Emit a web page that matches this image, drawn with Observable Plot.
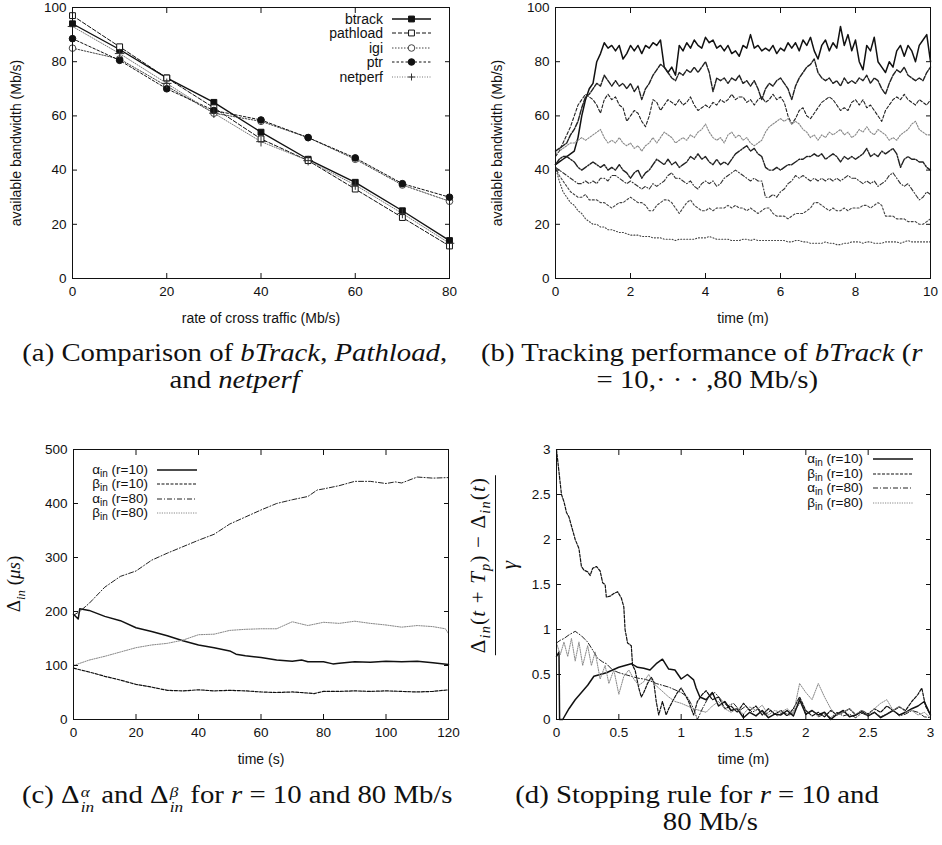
<!DOCTYPE html>
<html><head><meta charset="utf-8">
<script src="https://cdn.jsdelivr.net/npm/d3@7"></script>
<script src="https://cdn.jsdelivr.net/npm/@observablehq/plot@0.6"></script>
<style>
body{margin:0;background:#fff;}
#page{position:relative;width:942px;height:845px;overflow:hidden;font-family:"Liberation Sans",Arial,sans-serif;color:#111;}
.panel{position:absolute;}
.panel svg text{font-size:13.5px !important;}
.panel svg g[aria-label$="axis label"] text{font-size:14px !important;}
#overlay{position:absolute;left:0;top:0;pointer-events:none;}
.cap{position:absolute;font-family:"Liberation Serif","Times New Roman",serif;font-size:25px;color:#111;white-space:nowrap;line-height:1;}
.cap .in{display:inline-block;transform:scaleX(1.15);}
.cap.center{text-align:center;}
.cap.center .in{transform-origin:50% 50%;}
.cap.left .in{transform-origin:0 50%;}
.ss{display:inline-flex;flex-direction:column;vertical-align:0.42em;font-size:0.6em;line-height:1.0;font-style:italic;margin-left:1px;}
.ylab{position:absolute;font-family:"Liberation Serif","Times New Roman",serif;white-space:nowrap;transform:translate(-50%,-50%) rotate(-90deg);color:#111;}
.ylab sub{font-size:0.68em;vertical-align:-0.35em;}
.frac{display:inline-flex;flex-direction:column;align-items:center;}
.frac .num{border-bottom:1.4px solid #111;padding:0 2px 1px 2px;letter-spacing:1.2px;}
.frac .den{padding-top:1px;}
</style>
</head>
<body>
<div id="page">
  <div id="pa" class="panel" style="left:0;top:0"></div>
  <div id="pb" class="panel" style="left:480px;top:0"></div>
  <div id="pc" class="panel" style="left:0;top:440px"></div>
  <div id="pd" class="panel" style="left:480px;top:440px"></div>
  <svg id="overlay" width="942" height="845"></svg>

  <div class="ylab" style="left:16px;top:584px;font-size:19px;">Δ<sub><i>in</i></sub> (<i>μs</i>)</div>
  <div class="ylab" style="left:494px;top:565px;font-size:21px;"><span class="frac"><span class="num">Δ<sub><i>in</i></sub>(<i>t</i> + <i>T</i><sub><i>p</i></sub>) − Δ<sub><i>in</i></sub>(<i>t</i>)</span><span class="den"><i>γ</i></span></span></div>

  <div class="cap center" style="left:0;width:470px;top:340px;"><span class="in">(a) Comparison of <i>bTrack</i>, <i>Pathload</i>,</span></div>
  <div class="cap center" style="left:0;width:470px;top:367px;"><span class="in">and <i>netperf</i></span></div>
  <div class="cap left" style="left:481px;top:340px;"><span class="in">(b) Tracking performance of <i>bTrack</i> (<i>r</i></span></div>
  <div class="cap center" style="left:472px;width:470px;top:367px;"><span class="in">= 10,· · · ,80 Mb/s)</span></div>
  <div class="cap left" style="left:22px;top:782px;"><span class="in">(c) Δ<span class="ss"><span>α</span><span>in</span></span> and Δ<span class="ss"><span>β</span><span>in</span></span> for <i>r</i> = 10 and 80 Mb/s</span></div>
  <div class="cap center" style="left:462px;width:470px;top:782px;"><span class="in">(d) Stopping rule for <i>r</i> = 10 and</span></div>
  <div class="cap center" style="left:475px;width:470px;top:809px;"><span class="in">80 Mb/s</span></div>
</div>
<script>
// ================= DATA =================
// (a) Comparison of tools
const crossRate = [0, 10, 20, 30, 40, 50, 60, 70, 80];
const aNames = ["btrack", "pathload", "igi", "ptr", "netperf"];
const btrack   = [94, 84.5, 74, 65, 54, 44, 35.5, 25, 14];
const pathload = [97, 85.5, 74, 63, 51.5, 43.5, 33, 22.5, 12];
const igi      = [85, 81, 71, 61, 58, 52, 44, 34.5, 28.5];
const ptr      = [88.5, 80.5, 70, 62, 58.5, 52, 44.5, 35, 30];
const netperf  = [93, 83, 72, 61, 50.5, 43.5, 34.5, 24, 13];
const aTicksX = [0, 20, 40, 60, 80];
const aTicksY = [0, 20, 40, 60, 80, 100];

// (b) Tracking performance, r = 10..80 Mb/s, sampled every 0.1 min
const bTime = d3.range(0, 101).map(i => i / 10);
const b10 = [42,43,44,45,46,47,52,60,66,70,72,80,83,87,85,86,84,86,81,83,86,84,86,83,86,85,87,86,88,78,76,78,75,86,84,87,85,88,86,85,89,87,88,85,86,84,86,83,84,82,86,85,90,85,86,84,85,84,86,83,85,84,87,85,87,84,88,86,89,84,81,86,88,84,87,85,93,86,90,84,88,80,77,86,84,89,80,78,76,80,78,84,86,82,86,84,80,86,88,90,80];
const b20 = [47,48,49,50,53,55,58,63,67,68,70,72,71,75,73,71,73,71,72,70,72,69,71,66,70,72,75,77,79,78,76,74,73,76,75,77,76,78,76,78,80,76,69,74,73,74,72,74,73,75,72,73,71,73,70,66,70,72,71,73,74,72,70,66,71,74,76,78,79,81,76,74,73,74,72,73,71,74,72,73,72,74,73,75,72,74,73,70,68,72,75,77,76,78,75,74,73,74,73,76,78];
const b30 = [45,47,50,53,56,60,64,66,68,67,66,64,61,66,68,66,67,64,63,58,60,62,61,58,56,60,66,65,62,64,66,65,64,66,64,65,67,64,62,63,64,63,65,64,66,65,66,68,66,67,67,65,66,64,66,67,65,66,68,66,67,65,60,57,59,62,63,60,59,61,63,65,66,67,66,64,62,63,62,65,66,64,66,63,64,62,60,58,62,64,66,67,66,68,66,65,64,66,65,64,66];
const b40 = [46,47,48,49,50,50,51,52,51,52,53,54,55,52,50,51,50,52,50,49,50,48,49,47,49,50,52,50,52,54,53,52,50,51,52,51,53,52,54,55,57,54,52,51,52,50,53,54,52,53,51,52,50,49,50,51,54,56,57,58,59,58,59,57,58,57,55,54,52,53,51,53,52,54,53,54,55,53,54,52,53,55,54,56,54,53,55,54,53,51,52,51,53,54,55,57,58,55,54,53,53];
const b50 = [42,44,45,45,44,43,41,40,41,42,43,42,41,42,40,41,40,42,40,39,37,39,40,37,39,40,42,44,43,42,44,42,43,41,42,43,45,44,46,44,45,43,42,44,42,43,42,44,46,47,48,49,47,48,46,45,41,40,40,41,40,41,42,42,43,44,44,45,45,46,45,46,44,45,46,45,43,45,44,45,44,45,46,48,45,46,45,47,46,47,48,46,41,44,45,44,44,43,43,41,40];
const b60 = [41,40,39,38,37,36,35,35,36,35,36,35,37,37,36,38,38,37,36,35,36,35,34,33,34,33,35,34,35,36,38,39,37,37,36,35,36,34,33,35,36,35,36,34,35,37,38,39,40,39,38,37,36,37,36,36,30,30,31,30,32,33,35,36,38,37,38,37,36,37,36,37,36,37,36,37,36,37,38,37,37,36,35,36,35,36,34,35,36,38,39,37,35,34,35,33,31,29,30,32,31];
const b70 = [41,38,36,34,32,31,30,30,31,29,29,29,28,28,27,26,27,28,28,29,30,29,28,28,27,25,25,27,28,29,29,28,26,24,26,28,29,27,26,25,25,26,25,26,26,26,27,26,27,26,26,25,26,25,24,25,26,26,24,23,23,23,22,23,24,24,24,25,26,28,28,27,26,25,26,25,25,26,25,26,26,26,27,27,26,27,28,27,23,23,23,22,22,22,21,21,21,20,20,21,22];
const b80 = [41,36,32,30,28,27,25,24,22,21,20,20,19,19,18,18,17.5,17,17,16.5,16,16,16,15.5,15.5,15.5,15,15,15,14.5,14.5,14.5,14,14.5,14.5,14.5,14.5,14.5,15,15,15,15.5,15,14.5,14.5,14.5,14.5,14,14,14,14.5,14.5,14,14.5,14,14,14,14,14,14,14,14,13.5,13.5,14,14,13.5,13.5,13,13,13,13,13.5,13,13,12.5,12.5,13,13,13.5,13.5,13.5,13,13.5,13.5,13,13,13,13.5,13.5,13.5,13.5,13,13.5,14,13.5,13.5,13.5,13.5,13.5,13.5];
const bTicksX = [0, 2, 4, 6, 8, 10];
const bTicksY = [0, 20, 40, 60, 80, 100];

// (c) Delta_in over time (s): [time, microseconds]
const cNames = ["α_in (r=10)", "β_in (r=10)", "α_in (r=80)", "β_in (r=80)"];
const cAlpha10 = [[0,195],[1.5,186],[2,205],[5,202],[10,191],[15,183],[20,170],[25,163],[30,155],[35,146],[40,138],[45,133],[50,127],[52,121],[55,118],[60,115],[65,110],[70,108],[73,110],[75,107],[80,107],[83,103],[85,104],[90,107],[95,106],[100,108],[105,107],[110,108],[115,105],[120,102]];
const cBeta10 = [[0,95],[5,88],[10,80],[15,73],[20,65],[25,60],[30,54],[35,53],[40,55],[45,53],[50,54],[55,53],[60,51],[65,50],[70,51],[75,49],[77,48],[80,52],[85,52],[90,53],[95,52],[100,53],[105,52],[110,51],[115,52],[120,55]];
const cAlpha80 = [[0,193],[2,200],[5,215],[10,245],[15,265],[20,275],[25,295],[30,308],[35,320],[40,332],[45,343],[50,362],[55,375],[60,388],[65,400],[70,407],[75,413],[78,425],[80,427],[85,433],[90,441],[95,441],[100,437],[103,440],[105,438],[110,449],[115,447],[120,448]];
const cBeta80 = [[0,100],[5,110],[10,117],[15,125],[20,133],[25,138],[30,141],[35,147],[40,157],[45,158],[50,165],[55,167],[60,168],[65,168],[70,181],[75,174],[80,180],[85,178],[90,182],[95,178],[100,175],[105,171],[110,174],[115,172],[119,168],[120,159]];
const cTicksX = [0, 20, 40, 60, 80, 100, 120];
const cTicksY = [0, 100, 200, 300, 400, 500];

// (d) Stopping rule over time (m): [time, value]
const dAlpha10 = [[0,0.7],[0.02,0.75],[0.025,0],[0.05,0],[0.1,0.12],[0.15,0.22],[0.2,0.3],[0.25,0.38],[0.3,0.48],[0.35,0.5],[0.4,0.52],[0.45,0.55],[0.5,0.58],[0.55,0.6],[0.6,0.62],[0.65,0.58],[0.7,0.57],[0.75,0.55],[0.8,0.62],[0.85,0.67],[0.9,0.56],[0.95,0.55],[1.0,0.45],[1.05,0.5],[1.1,0.44],[1.12,0.35],[1.15,0.25],[1.2,0.22],[1.25,0.3],[1.3,0.15],[1.35,0.2],[1.4,0.1],[1.45,0.12],[1.5,0.02],[1.55,0.08],[1.6,0.04],[1.65,0.1],[1.7,0.02],[1.75,0.06],[1.8,0.05],[1.85,0.1],[1.9,0.04],[1.95,0.22],[2.0,0.06],[2.05,0.1],[2.1,0.05],[2.15,0.08],[2.2,0.0],[2.25,0.06],[2.3,0.1],[2.35,0.03],[2.4,0.05],[2.45,0.09],[2.5,0.04],[2.55,0.08],[2.6,0.02],[2.65,0.06],[2.7,0.1],[2.75,0.05],[2.8,0.08],[2.85,0.12],[2.9,0.15],[2.95,0.2],[3.0,0.05]];
const dBeta10 = [[0,3.0],[0.02,2.75],[0.04,2.5],[0.06,2.42],[0.08,2.3],[0.1,2.25],[0.12,2.15],[0.15,2.0],[0.18,1.9],[0.2,1.7],[0.22,1.66],[0.25,1.64],[0.27,1.6],[0.29,1.68],[0.32,1.7],[0.35,1.65],[0.37,1.52],[0.39,1.5],[0.4,1.36],[0.43,1.37],[0.46,1.4],[0.49,1.42],[0.52,1.35],[0.54,1.25],[0.55,1.0],[0.57,0.85],[0.6,0.82],[0.61,0.6],[0.63,0.55],[0.66,0.35],[0.68,0.25],[0.7,0.3],[0.73,0.4],[0.76,0.47],[0.78,0.42],[0.8,0.2],[0.82,0.05],[0.85,0.2],[0.88,0.05],[0.9,0.12],[0.93,0.2],[0.97,0.3],[1.0,0.35],[1.03,0.28],[1.06,0.2],[1.1,0.05],[1.13,0.2],[1.17,0.28],[1.2,0.32],[1.25,0.22],[1.3,0.25],[1.35,0.12],[1.4,0.15],[1.45,0.08],[1.5,0.18],[1.55,0.1],[1.6,0.15],[1.65,0.05],[1.7,0.12],[1.75,0.06],[1.8,0.1],[1.85,0.04],[1.9,0.12],[1.95,0.25],[2.0,0.1],[2.05,0.04],[2.1,0.08],[2.15,0.03],[2.2,0.1],[2.25,0.05],[2.3,0.08],[2.35,0.12],[2.4,0.05],[2.45,0.1],[2.5,0.06],[2.55,0.12],[2.6,0.08],[2.65,0.15],[2.7,0.1],[2.75,0.14],[2.8,0.1],[2.85,0.2],[2.9,0.28],[2.93,0.35],[2.96,0.15],[3.0,0.05]];
const dAlpha80 = [[0,0.85],[0.03,0.88],[0.06,0.9],[0.1,0.94],[0.15,0.98],[0.2,0.93],[0.25,0.86],[0.3,0.75],[0.33,0.68],[0.37,0.64],[0.4,0.62],[0.45,0.55],[0.5,0.52],[0.55,0.5],[0.6,0.48],[0.65,0.46],[0.7,0.45],[0.75,0.43],[0.8,0.4],[0.85,0.38],[0.9,0.36],[0.95,0.33],[1.0,0.3],[1.05,0.25],[1.1,0.12],[1.13,0.0],[1.17,0.12],[1.22,0.25],[1.27,0.3],[1.32,0.22],[1.37,0.15],[1.42,0.18],[1.47,0.1],[1.52,0.15],[1.57,0.08],[1.62,0.12],[1.67,0.05],[1.72,0.1],[1.77,0.04],[1.82,0.08],[1.87,0.05],[1.92,0.12],[1.96,0.2],[2.0,0.05],[2.05,0.1],[2.1,0.03],[2.15,0.06],[2.2,0.02],[2.25,0.08],[2.3,0.04],[2.35,0.06],[2.4,0.02],[2.45,0.07],[2.5,0.04],[2.55,0.08],[2.6,0.03],[2.65,0.06],[2.7,0.1],[2.75,0.04],[2.8,0.06],[2.85,0.1],[2.9,0.08],[2.95,0.03],[3.0,0.02]];
const dBeta80 = [[0,0.85],[0.03,0.72],[0.06,0.86],[0.09,0.7],[0.12,0.9],[0.15,0.65],[0.18,0.86],[0.21,0.6],[0.25,0.82],[0.28,0.6],[0.31,0.75],[0.35,0.45],[0.39,0.6],[0.42,0.4],[0.46,0.55],[0.5,0.28],[0.54,0.48],[0.58,0.55],[0.62,0.45],[0.66,0.38],[0.7,0.42],[0.74,0.5],[0.78,0.4],[0.82,0.35],[0.86,0.3],[0.9,0.25],[0.95,0.2],[1.0,0.18],[1.05,0.15],[1.1,0.12],[1.15,0.1],[1.2,0.08],[1.25,0.15],[1.3,0.2],[1.35,0.12],[1.4,0.08],[1.45,0.12],[1.5,0.06],[1.55,0.14],[1.6,0.1],[1.65,0.16],[1.7,0.05],[1.75,0.1],[1.8,0.08],[1.85,0.12],[1.9,0.06],[1.95,0.4],[2.0,0.3],[2.05,0.22],[2.1,0.4],[2.15,0.25],[2.2,0.12],[2.25,0.05],[2.3,0.08],[2.35,0.12],[2.4,0.06],[2.45,0.1],[2.5,0.05],[2.55,0.12],[2.6,0.18],[2.65,0.22],[2.7,0.1],[2.75,0.15],[2.8,0.08],[2.85,0.1],[2.9,0.05],[2.95,0.08],[3.0,0.02]];
const dTicks = [0, 0.5, 1, 1.5, 2, 2.5, 3];

// ================= STYLES =================
const aStyles = [
  {stroke:"#111", width:1.4, dash:null,     symbol:"square", fill:"#111", dotStroke:"#111"},
  {stroke:"#111", width:1,   dash:"4,2",    symbol:"square", fill:"#fff", dotStroke:"#111"},
  {stroke:"#444", width:1,   dash:"1.5,1.5",symbol:"circle", fill:"#fff", dotStroke:"#444"},
  {stroke:"#111", width:1,   dash:"2.5,2",  symbol:"circle", fill:"#111", dotStroke:"#111"},
  {stroke:"#777", width:1,   dash:"1,1.5",  symbol:"plus",   fill:"none", dotStroke:"#333"}
];
const bStyles = [
  {stroke:"#111", width:1.5, dash:null},
  {stroke:"#222", width:1.4, dash:"5,1.5"},
  {stroke:"#222", width:1.1, dash:"3,2"},
  {stroke:"#888", width:1.1, dash:"1.5,1.5"},
  {stroke:"#222", width:1.4, dash:"7,1.5,1.5,1.5"},
  {stroke:"#333", width:1.1, dash:"4,2,1,2"},
  {stroke:"#444", width:1.1, dash:"2,2"},
  {stroke:"#444", width:1.1, dash:"1,2"}
];
const cdStyles = [
  {stroke:"#111", width:1.5, dash:null},
  {stroke:"#111", width:1.2, dash:"3,1.5"},
  {stroke:"#222", width:1.0, dash:"5,2,1,2"},
  {stroke:"#888", width:1.0, dash:"1.2,1.2"}
];

const FONT = '"Liberation Sans", Arial, sans-serif';
const fmtNum = d => String(d);

function axes(xTicks, yTicks, xLabel, yLabel, yLabelOffset) {
  return [
    Plot.axisX({ticks: xTicks, anchor: "bottom", tickSize: 0, tickPadding: 8, tickFormat: fmtNum,
      label: xLabel, labelAnchor: "center", labelArrow: "none", labelOffset: 44}),
    Plot.axisX({ticks: xTicks, anchor: "bottom", tickSize: -5, tickFormat: () => "", label: null}),
    Plot.axisX({ticks: xTicks, anchor: "top", tickSize: -5, tickFormat: () => "", label: null}),
    Plot.axisY({ticks: yTicks, anchor: "left", tickSize: 0, tickPadding: 6, tickFormat: fmtNum,
      label: yLabel, labelAnchor: "center", labelArrow: "none", labelOffset: yLabelOffset}),
    Plot.axisY({ticks: yTicks, anchor: "left", tickSize: -5, tickFormat: () => "", label: null}),
    Plot.axisY({ticks: yTicks, anchor: "right", tickSize: -5, tickFormat: () => "", label: null}),
    Plot.frame({stroke: "#111", strokeWidth: 1})
  ];
}
function baseStyle() {
  return {fontFamily: FONT, fontSize: "13.5px", color: "#111", background: "transparent", overflow: "visible"};
}
function lineMarks(rows, names, styles) {
  return names.map((n, i) => Plot.line(rows.filter(r => r.s === n), {
    x: "x", y: "y", stroke: styles[i].stroke, strokeWidth: styles[i].width,
    strokeDasharray: styles[i].dash || undefined, strokeLinejoin: "round"
  }));
}

// ---------- (a)
const aSeries = [btrack, pathload, igi, ptr, netperf];
const aRows = aNames.flatMap((n, i) => crossRate.map((x, j) => ({s: n, x, y: aSeries[i][j]})));
const plotA = Plot.plot({
  width: 470, height: 330, marginLeft: 72, marginRight: 21, marginTop: 7, marginBottom: 52,
  x: {domain: [0, 80]}, y: {domain: [0, 100]}, style: baseStyle(),
  marks: [
    ...lineMarks(aRows, aNames, aStyles),
    ...aNames.map((n, i) => Plot.dot(aRows.filter(r => r.s === n), {
      x: "x", y: "y", symbol: aStyles[i].symbol, r: aStyles[i].symbol === "plus" ? 3.2 : 3.3,
      fill: aStyles[i].fill, stroke: aStyles[i].dotStroke, strokeWidth: 1
    })),
    ...axes(aTicksX, aTicksY, "rate of cross traffic (Mb/s)", "available bandwidth (Mb/s)", 61)
  ]
});
document.getElementById("pa").append(plotA);

// ---------- (b)
const bNames = ["r=10", "r=20", "r=30", "r=40", "r=50", "r=60", "r=70", "r=80"];
const bSeries = [b10, b20, b30, b40, b50, b60, b70, b80];
const bRows = bNames.flatMap((n, i) => bTime.map((x, j) => ({s: n, x, y: bSeries[i][j]})));
const plotB = Plot.plot({
  width: 462, height: 330, marginLeft: 75, marginRight: 12, marginTop: 7, marginBottom: 52,
  x: {domain: [0, 10]}, y: {domain: [0, 100]}, style: baseStyle(),
  marks: [
    ...lineMarks(bRows, bNames, bStyles),
    ...axes(bTicksX, bTicksY, "time (m)", "available bandwidth (Mb/s)", 63)
  ]
});
document.getElementById("pb").append(plotB);

// ---------- (c)
const cSeries = [cAlpha10, cBeta10, cAlpha80, cBeta80];
const cRows = cNames.flatMap((n, i) => cSeries[i].map(([x, y]) => ({s: n, x, y})));
const plotC = Plot.plot({
  width: 470, height: 330, marginLeft: 73, marginRight: 22, marginTop: 9, marginBottom: 51,
  x: {domain: [0, 120]}, y: {domain: [0, 500]}, style: baseStyle(),
  marks: [
    ...lineMarks(cRows, cNames, cdStyles),
    ...axes(cTicksX, cTicksY, "time (s)", null, 60)
  ]
});
document.getElementById("pc").append(plotC);

// ---------- (d)
const dSeries = [dAlpha10, dBeta10, dAlpha80, dBeta80];
const dRows = cNames.flatMap((n, i) => dSeries[i].map(([x, y]) => ({s: n, x, y})));
const plotD = Plot.plot({
  width: 462, height: 330, marginLeft: 76, marginRight: 12, marginTop: 9, marginBottom: 51,
  x: {domain: [0, 3]}, y: {domain: [0, 3]}, style: baseStyle(),
  marks: [
    ...lineMarks(dRows, cNames, cdStyles),
    ...axes(dTicks, dTicks, "time (m)", null, 60)
  ]
});
document.getElementById("pd").append(plotD);

// ================= LEGENDS (overlay) =================
const layer = d3.select("#overlay").attr("font-family", FONT).attr("font-size", 14).attr("fill", "#111");
function legendLabel(g, x, y, name) {
  const parts = name.split("_in");
  const t = g.append("text").attr("x", x).attr("y", y + 5).attr("text-anchor", "end");
  if (parts.length === 2) {
    t.attr("y", y + 3.5).attr("font-size", 13.5);
    t.append("tspan").text(parts[0]);
    t.append("tspan").attr("dy", 3).attr("font-size", 10).text("in");
    t.append("tspan").attr("dy", -3).text(parts[1]);
  } else t.text(name);
}
function legend(names, styles, xText, x1, x2, ys, withSymbols) {
  const g = layer.append("g");
  names.forEach((n, i) => {
    const y = ys[i], st = styles[i];
    legendLabel(g, xText, y, n);
    g.append("line").attr("x1", x1).attr("x2", x2).attr("y1", y).attr("y2", y)
      .attr("stroke", st.stroke).attr("stroke-width", st.width)
      .attr("stroke-dasharray", st.dash || null);
    if (withSymbols) {
      const cx = (x1 + x2) / 2;
      if (st.symbol === "plus") {
        g.append("path").attr("d", `M${cx-3.5},${y}h7M${cx},${y-3.5}v7`).attr("stroke", st.dotStroke).attr("fill", "none");
      } else {
        const type = st.symbol === "square" ? d3.symbolSquare : d3.symbolCircle;
        g.append("path").attr("d", d3.symbol(type, Math.PI * 3.3 * 3.3)()).attr("transform", `translate(${cx},${y})`)
          .attr("fill", st.fill).attr("stroke", st.dotStroke);
      }
    }
  });
}
legend(aNames, aStyles, 383, 392, 431, [19, 33, 48, 62, 77], true);
legend(cNames, cdStyles, 148, 157, 197, [470, 484, 499, 513], false);
legend(cNames, cdStyles, 863, 873, 913, [459, 474, 488, 503], false);
</script>
</body></html>
